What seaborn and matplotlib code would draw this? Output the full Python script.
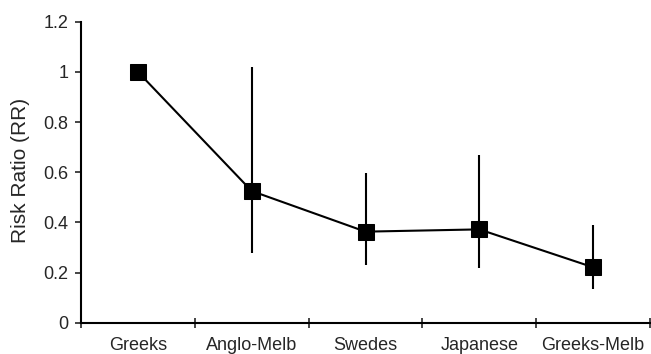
import numpy as np
import pandas as pd
import seaborn as sns
import matplotlib.pyplot as plt

# data
groups = ["Greeks", "Anglo-Melb", "Swedes", "Japanese", "Greeks-Melb"]
rr     = [1.0, 0.525, 0.363, 0.372, 0.221]
ci_lo  = [np.nan, 0.279, 0.230, 0.218, 0.133]
ci_hi  = [np.nan, 1.018, 0.598, 0.667, 0.391]

sns.set_style("ticks")
plt.rcParams['font.family'] = ['Liberation Sans', 'DejaVu Sans']

df = pd.DataFrame({"pos": np.arange(len(groups)), "rr": rr,
                   "lo": ci_lo, "hi": ci_hi})

fig = plt.figure(figsize=(6.51, 3.54), dpi=100)
ax = fig.add_axes([81 / 651, 1 - 322.7 / 354, (650 - 81) / 651, (322.7 - 21.7) / 354])

# confidence intervals, no caps
ax.vlines(df["pos"], df["lo"], df["hi"], color="black", lw=1.5, zorder=2)

# point estimates joined by a line
sns.lineplot(data=df, x="pos", y="rr", ax=ax, color="black", lw=1.5,
             marker="s", markersize=12, markeredgecolor="black",
             markerfacecolor="black", zorder=3)

ax.set_xlim(-0.5, len(groups) - 0.5)
ax.set_ylim(0, 1.2)
ax.set_yticks(np.arange(0, 1.21, 0.2))
ax.set_yticklabels(["0", "0.2", "0.4", "0.6", "0.8", "1", "1.2"])

# tick marks at category boundaries, labels in the middle
ax.set_xticks(np.arange(-0.5, len(groups), 1.0))
ax.set_xticklabels([])
ax.set_xticks(np.arange(len(groups)), minor=True)
ax.set_xticklabels(groups, minor=True)
ax.tick_params(axis="x", which="major", direction="inout", length=7, width=1.2)
ax.tick_params(axis="x", which="minor", length=0, pad=10, labelsize=13)
ax.tick_params(axis="y", direction="out", length=4, width=1.2, labelsize=13, pad=5)

ax.set_xlabel("")
ax.set_ylabel("Risk Ratio (RR)", fontsize=15)
ax.yaxis.set_label_coords((30 - 81) / 569, 0.505)

for s in ["top", "right"]:
    ax.spines[s].set_visible(False)
for s in ["left", "bottom"]:
    ax.spines[s].set_linewidth(1.5)
    ax.spines[s].set_color("black")
ax.spines["bottom"].set_clip_on(False)

plt.savefig("out.png", dpi=100)
